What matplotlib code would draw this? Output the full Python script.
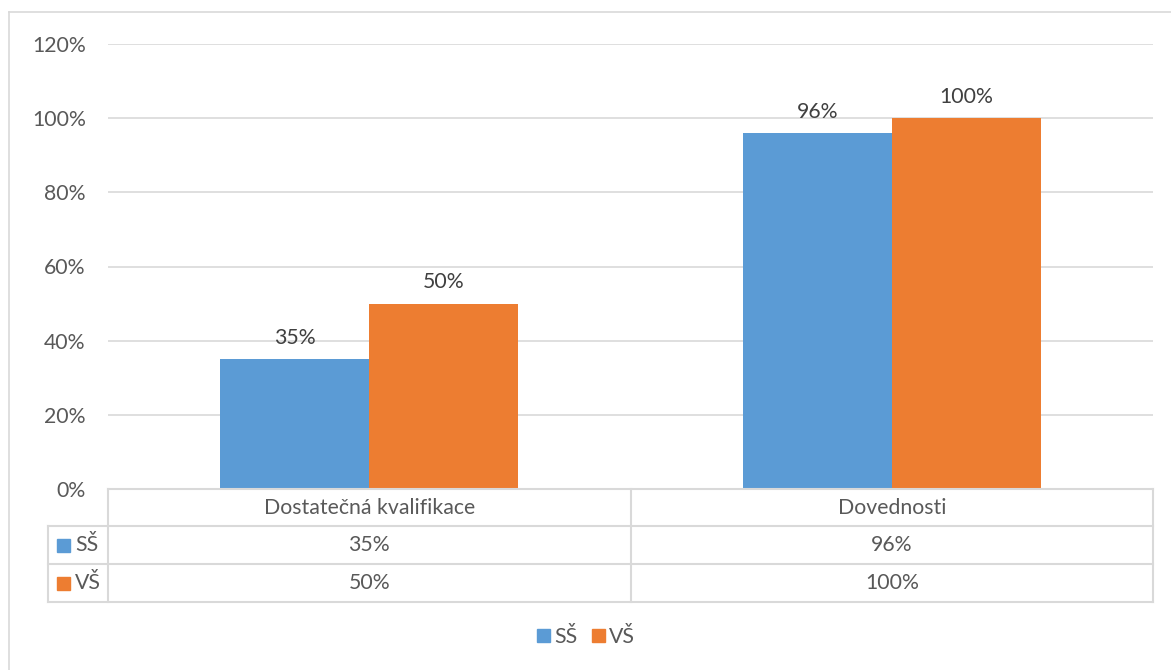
import matplotlib.pyplot as plt
from matplotlib.patches import Patch

categories = ["Dostatečná kvalifikace", "Dovednosti"]
series_names = ["SŠ", "VŠ"]
ss_values = [0.35, 0.96]
vs_values = [0.50, 1.00]
yticks = [0, 0.2, 0.4, 0.6, 0.8, 1.0, 1.2]

colors = ["#5B9BD5", "#ED7D31"]
text_col = "#595959"
grid_col = "#D9D9D9"
fs = 15.3

plt.rcParams['font.family'] = ['Lato', 'DejaVu Sans']

W, H = 1171, 670
fig = plt.figure(figsize=(W / 100, H / 100), dpi=100)


def px(x0, y0, x1, y1):
    """pixel box (top-left origin) -> figure fraction rect"""
    return [x0 / W, 1 - y1 / H, (x1 - x0) / W, (y1 - y0) / H]


# outer chart border (left + top)
fig.add_artist(plt.Line2D([9 / W, 9 / W], [0, 1 - 12 / H], color=grid_col, lw=1.2))
fig.add_artist(plt.Line2D([9 / W, 1], [1 - 12 / H, 1 - 12 / H], color=grid_col, lw=1.2))

# main plot area
ax = fig.add_axes(px(108, 44, 1153, 489))
x = range(len(categories))
bw = 0.285
all_vals = [ss_values, vs_values]
for i, vals in enumerate(all_vals):
    offs = [xi + (i - 0.5) * bw for xi in x]
    bars = ax.bar(offs, vals, width=bw, color=colors[i], zorder=3)
    for b, v in zip(bars, vals):
        ax.text(b.get_x() + b.get_width() / 2, v + 0.03, f"{v * 100:.0f}%",
                ha="center", va="bottom", fontsize=fs, color="#404040")

ax.set_xlim(-0.5, len(categories) - 0.5)
ax.set_ylim(0, 1.2)
ax.set_yticks(yticks)
ax.set_yticklabels([f"{t * 100:.0f}%" for t in yticks], fontsize=fs, color=text_col)
ax.tick_params(axis="y", length=0, pad=16)
ax.set_xticks([])
ax.grid(axis="y", color=grid_col, lw=1.2, zorder=0)
for s in ax.spines.values():
    s.set_visible(False)

# data table below the plot
tab = fig.add_axes(px(48, 489, 1153, 602))
tab.set_xlim(48, 1153)
tab.set_ylim(602, 489)
tab.axis("off")
col_edges = [108 + k * (1153 - 108) / len(categories) for k in range(len(categories) + 1)]
row_edges = [489, 526, 564, 602]
lkw = dict(color=grid_col, lw=1.5, clip_on=False)

# horizontal lines
tab.plot([108, 1153], [489, 489], **lkw)
for r in row_edges[1:]:
    tab.plot([48, 1153], [r, r], **lkw)
# vertical lines
tab.plot([48, 48], [526, 602], **lkw)
for c in col_edges:
    tab.plot([c, c], [489, 602], **lkw)

for j, cat in enumerate(categories):
    cx = (col_edges[j] + col_edges[j + 1]) / 2
    tab.text(cx, (row_edges[0] + row_edges[1]) / 2, cat, ha="center", va="center",
             fontsize=fs, color=text_col)
    for i, vals in enumerate(all_vals):
        tab.text(cx, (row_edges[i + 1] + row_edges[i + 2]) / 2, f"{vals[j] * 100:.0f}%",
                 ha="center", va="center", fontsize=fs, color=text_col)

for i, name in enumerate(series_names):
    cy = (row_edges[i + 1] + row_edges[i + 2]) / 2
    tab.add_patch(plt.Rectangle((57, cy - 6), 13, 13, color=colors[i], clip_on=False))
    tab.text(75, cy, name, ha="left", va="center", fontsize=fs, color=text_col)

# legend
handles = [Patch(color=c, label=n) for c, n in zip(colors, series_names)]
fig.legend(handles=handles, loc="center", bbox_to_anchor=(586 / W, 1 - 637 / H),
           ncol=2, frameon=False, fontsize=fs, handlelength=0.6, handleheight=0.6,
           handletextpad=0.2, columnspacing=0.7, labelcolor=text_col)

fig.savefig("out.png", dpi=100, facecolor="white")
